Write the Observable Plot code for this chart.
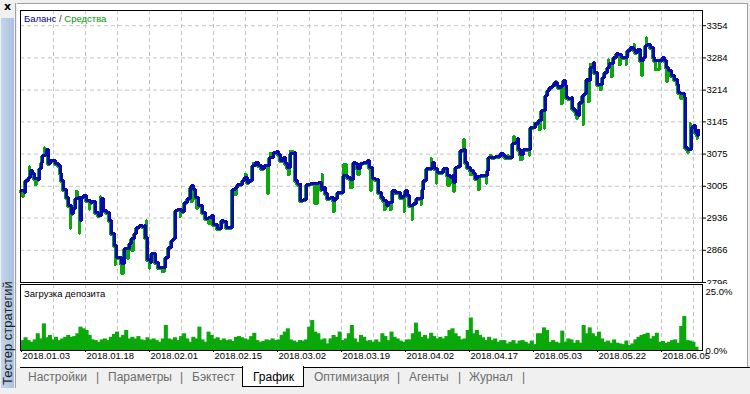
<!DOCTYPE html>
<html><head><meta charset="utf-8">
<script src="https://cdn.jsdelivr.net/npm/d3@7"></script>
<script src="https://cdn.jsdelivr.net/npm/@observablehq/plot@0.6"></script>
<style>
body{margin:0;width:750px;height:394px;background:#f0f0f0;position:relative;overflow:hidden;font-family:"Liberation Sans",Arial,sans-serif;}
.abs{position:absolute;}
#panel{left:17px;top:3px;width:730px;height:364px;background:#fff;border-top:1px solid #a0a0a0;border-right:1px solid #a0a0a0;}
#strip{left:1px;top:18px;width:13px;height:370px;background:linear-gradient(to right,#c3d5ea,#a9c1de);}
#vline{left:15px;top:3px;width:1px;height:385px;background:#a0a0a0;}
#striptext{left:1px;top:388px;width:130px;height:13px;line-height:13px;transform-origin:0 0;transform:rotate(-90deg);font-size:13px;color:#1e1e1e;padding-left:3px;white-space:nowrap;}
#close{left:4px;top:0px;font-size:11px;font-weight:bold;color:#000;font-family:"DejaVu Sans",sans-serif;}
#mainwrap{left:0;top:0;width:750px;height:284px;overflow:hidden;}
#lowerwrap{left:0;top:280px;width:750px;height:86px;}
.legend{font-size:9.5px;white-space:nowrap;}
#tabs{left:20px;top:367px;width:730px;height:20px;border-top:1px solid #000;background:#f0f0f0;}
#active{left:242px;top:366px;width:60px;height:20px;background:#fff;border-left:1px solid #000;border-right:1px solid #000;border-bottom:1px solid #000;}
.tab{top:370px;font-size:12px;color:#6d6d6d;white-space:nowrap;}
</style></head>
<body>
<div id="panel" class="abs"></div>
<div id="vline" class="abs"></div>
<div id="strip" class="abs"></div>
<div id="striptext" class="abs">Тестер стратегий</div>
<div id="close" class="abs">x</div>
<div id="mainwrap" class="abs"></div>
<div id="lowerwrap" class="abs"></div>
<div class="abs legend" style="left:24px;top:13px;"><span style="color:#0000a0">Баланс</span><span style="color:#303030"> / </span><span style="color:#009900">Средства</span></div>
<div class="abs legend" style="left:24px;top:288px;color:#000">Загрузка депозита</div>
<div id="tabs" class="abs"></div>
<div id="active" class="abs"></div>
<div class="abs tab" style="left:28px">Настройки</div>
<div class="abs tab" style="left:96px">|</div>
<div class="abs tab" style="left:108px">Параметры</div>
<div class="abs tab" style="left:180px">|</div>
<div class="abs tab" style="left:192px">Бэктест</div>
<div class="abs tab" style="left:253px;color:#000">График</div>
<div class="abs tab" style="left:314px">Оптимизация</div>
<div class="abs tab" style="left:397px">|</div>
<div class="abs tab" style="left:409px">Агенты</div>
<div class="abs tab" style="left:458px">|</div>
<div class="abs tab" style="left:469px">Журнал</div>
<div class="abs tab" style="left:522px">|</div>
<script>
// ---- data ----
// balance: [trade index, balance]
const balance = [[0,2996],[3,2992],[4,3017],[7,3025],[9,3039],[11,3033],[13,3022],[16,3019],[18,3043],[20,3057],[21,3072],[24,3075],[25,3086],[27,3054],[29,3061],[32,3062],[34,3054],[37,3050],[39,3032],[40,3017],[42,2999],[45,2981],[47,2963],[50,2945],[52,2956],[54,2978],[57,2981],[59,2931],[60,2981],[62,2985],[65,2974],[69,2970],[71,2973],[74,2949],[77,2942],[80,2978],[82,2952],[85,2949],[88,2931],[90,2902],[93,2876],[95,2851],[98,2850],[100,2837],[103,2869],[105,2869],[108,2880],[110,2891],[113,2902],[115,2916],[118,2920],[121,2918],[123,2920],[124,2894],[126,2847],[129,2840],[130,2860],[133,2858],[134,2840],[137,2829],[141,2829],[144,2851],[147,2873],[150,2887],[152,2891],[154,2952],[156,2954],[160,2951],[163,2970],[166,2978],[169,3003],[170,3007],[172,2999],[174,2981],[177,2963],[181,2949],[184,2934],[187,2938],[190,2942],[192,2923],[196,2914],[200,2931],[202,2929],[205,2916],[208,2916],[211,2999],[214,3003],[216,3010],[221,3017],[223,3025],[226,3014],[228,3017],[231,3050],[234,3057],[237,3050],[240,3043],[243,3050],[246,3050],[248,3068],[252,3079],[255,3081],[257,3075],[259,3061],[262,3068],[264,3054],[266,3046],[269,3077],[273,3079],[274,3017],[276,3010],[279,2974],[282,2976],[285,3010],[289,3012],[293,3012],[297,3014],[300,2999],[302,3003],[304,2989],[306,2978],[309,2981],[312,2974],[314,2978],[316,2992],[320,2992],[322,3028],[326,3025],[329,3019],[332,3057],[334,3054],[336,3043],[339,3054],[342,3057],[346,3061],[348,3046],[351,3021],[354,3019],[356,3019],[357,2992],[360,2981],[362,2974],[365,2963],[367,2970],[371,2996],[374,2992],[377,2992],[379,2981],[382,2985],[384,2996],[386,2985],[388,2963],[391,2963],[392,2967],[395,2978],[398,2978],[401,2999],[402,3017],[405,3043],[409,3043],[411,3057],[413,3043],[416,3035],[420,3035],[422,3043],[425,3043],[426,3028],[429,3025],[431,3028],[432,3014],[434,3046],[436,3048],[439,3083],[442,3086],[444,3057],[446,3046],[449,3039],[452,3032],[454,3023],[456,3026],[459,3028],[463,3028],[466,3039],[467,3068],[471,3067],[474,3070],[477,3070],[479,3077],[482,3072],[484,3068],[488,3068],[491,3097],[494,3101],[496,3108],[497,3086],[499,3075],[502,3086],[506,3086],[509,3133],[512,3133],[514,3142],[517,3149],[520,3169],[522,3169],[524,3202],[526,3213],[528,3220],[531,3224],[533,3231],[536,3224],[537,3219],[540,3224],[542,3235],[544,3224],[545,3198],[547,3195],[550,3198],[551,3173],[553,3169],[555,3162],[557,3159],[558,3187],[561,3202],[563,3206],[565,3238],[567,3235],[569,3263],[572,3274],[573,3253],[576,3227],[579,3227],[581,3242],[583,3253],[586,3263],[588,3271],[592,3285],[595,3293],[597,3291],[600,3285],[604,3285],[606,3300],[609,3307],[612,3303],[614,3296],[616,3303],[619,3278],[622,3285],[624,3311],[626,3314],[629,3307],[632,3285],[633,3278],[639,3278],[641,3285],[643,3278],[645,3263],[647,3256],[650,3245],[653,3238],[656,3227],[657,3209],[659,3207],[662,3206],[663,3198],[664,3090],[666,3086],[668,3086],[670,3133],[672,3137],[674,3122],[676,3115],[677,3126]];
// equity excursions away from balance: [trade index, equity]
const equitySpikes = [[1,2985],[8,3050],[14,3011],[23,3091],[49,2916],[55,2996],[58,2905],[68,2957],[79,2985],[94,2837],[100,2818],[106,2851],[110,2868],[125,2932],[128,2829],[141,2822],[159,2941],[170,2974],[175,2960],[187,2927],[214,2989],[224,3033],[232,3057],[246,2992],[249,3079],[267,3032],[269,3083],[293,2970],[301,3033],[312,2952],[322,3054],[329,3004],[336,3033],[349,2999],[363,2956],[369,2956],[383,2952],[391,2934],[400,2967],[410,3068],[415,3014],[426,3010],[432,2996],[442,3108],[449,3032],[457,3000],[465,3014],[469,3075],[487,3075],[492,3115],[499,3065],[508,3075],[513,3144],[518,3130],[523,3133],[535,3235],[540,3187],[555,3155],[562,3141],[567,3191],[569,3272],[579,3217],[587,3282],[590,3245],[598,3271],[605,3271],[613,3316],[620,3249],[625,3330],[634,3260],[645,3235],[659,3198],[666,3081],[669,3144],[676,3111]];
// deposit load, percent, in trade order
const load = [4.2,5.4,4.2,3.5,4.5,7.1,4.9,11.3,5.4,6.4,4.5,5.6,4.2,4.9,5.6,6.4,5.6,5.9,7.1,9.9,9.2,8.5,6.4,4.5,4.2,3.5,4.5,4.9,4.2,5.6,6.8,7.8,5.4,6.4,8.5,4.9,5.6,4.9,5.9,4.5,4.2,5.4,4.5,4.9,4.2,3.5,4.9,10.6,4.9,4.5,5.4,4.2,5.9,7.1,4.9,3.5,5.6,4.9,9.9,4.5,3.5,7.8,6.4,4.9,5.4,4.2,4.9,4.2,4.5,3.8,5.6,5.9,5.4,4.9,4.5,5.9,7.3,4.2,3.5,3.8,4.5,4.2,
4.9,4.2,4.5,6.4,7.8,9.2,4.5,4.0,3.5,4.2,4.0,4.5,9.9,12.7,7.8,7.1,4.5,4.9,2.8,4.9,6.4,5.6,7.8,4.2,4.9,7.1,10.6,4.9,3.5,6.4,5.6,4.0,4.2,3.5,4.5,3.5,7.1,5.9,4.2,7.8,5.6,4.9,4.0,3.5,4.5,4.5,7.1,11.6,7.8,5.6,6.4,4.9,7.3,5.9,4.9,5.6,4.9,5.9,8.5,9.2,7.1,5.9,4.5,4.9,8.5,13.8,7.1,8.5,6.4,5.4,4.2,5.6,4.2,4.9,3.5,4.2,
4.2,2.8,3.5,4.2,2.8,4.0,4.2,3.5,2.8,4.0,2.5,7.1,7.1,9.6,8.5,3.5,4.2,3.5,3.1,8.2,3.5,4.9,4.5,3.1,4.2,3.1,10.6,7.1,9.6,7.1,5.9,7.8,4.9,3.5,4.0,3.1,4.5,3.1,2.8,2.5,4.0,2.1,2.8,4.5,5.6,6.4,6.8,7.3,4.9,5.9,7.3,3.5,3.8,3.1,3.5,4.2,4.5,3.1,10.2,14.4,4.2,4.0,3.5,1.4];
const yTicks = [2796, 2866, 2936, 3005, 3075, 3145, 3214, 3284, 3354];
const loadTicks = [0, 25];
const dateLabels = ["2018.01.03","2018.01.18","2018.02.01","2018.02.15","2018.03.02","2018.03.19","2018.04.02","2018.04.17","2018.05.03","2018.05.22","2018.06.05"];
const datePos = [0, 64, 128, 192, 256, 320, 384, 448, 512, 576, 640];
const gridPos = [32,64,96,128,160,192,224,256,288,320,352,384,416,448,480,512,544,576,608,640,672];

// ---- build ----
const BLUE = "#0a0ab0", GREEN = "#0aa80a", GRID = "#c4c4c4";
const xDomain = [-1, 681];
const balanceData = balance.map(([i, v]) => ({i, v}));
const equityData = balance.map(([i, v]) => ({i, v}))
  .concat(equitySpikes.map(([i, v]) => ({i: i + 0.5, v})))
  .sort((a, b) => a.i - b.i);
const step = 677 / load.length;
const loadData = load.map((v, k) => ({x1: k * step, x2: (k + 1) * step, v}));
const dates = dateLabels.map((label, k) => ({label, pos: datePos[k]}));
const fontStyle = {background: "transparent", fontFamily: "'Liberation Sans', Arial, sans-serif", fontSize: "9.5px", color: "#000"};

const main = Plot.plot({
  width: 750, height: 284,
  marginLeft: 20, marginRight: 48, marginTop: 10, marginBottom: 2,
  style: fontStyle,
  x: {domain: xDomain, axis: null},
  y: {domain: [2796, 3387], axis: "right", ticks: yTicks, tickSize: 3, tickPadding: 1, tickFormat: d => String(d), label: null},
  marks: [
    Plot.ruleX(gridPos, {stroke: GRID, strokeOpacity: 1, strokeDasharray: "4,3"}),
    Plot.ruleY(yTicks, {stroke: GRID, strokeOpacity: 1, strokeDasharray: "4,3"}),
    Plot.line(equityData, {x: "i", y: "v", curve: "step-after", stroke: GREEN, strokeWidth: 3, dx: -1, dy: 1, strokeLinejoin: "miter", shapeRendering: "crispEdges"}),
    Plot.line(balanceData, {x: "i", y: "v", curve: "step-after", stroke: BLUE, strokeWidth: 3, strokeLinejoin: "miter", shapeRendering: "crispEdges"}),
    Plot.frame({stroke: "#000"})
  ]
});
document.getElementById("mainwrap").appendChild(main);

const lower = Plot.plot({
  width: 750, height: 86,
  marginLeft: 20, marginRight: 48, marginTop: 4, marginBottom: 16,
  style: fontStyle,
  x: {domain: xDomain, axis: "bottom", ticks: datePos, tickSize: 2, tickFormat: () => "", label: null},
  y: {domain: [0, 28], axis: "right", ticks: loadTicks, tickSize: 0, tickPadding: 3, tickFormat: d => d.toFixed(1) + "%", label: null},
  marks: [
    Plot.ruleX(gridPos, {stroke: GRID, strokeOpacity: 1, strokeDasharray: "4,3"}),
    Plot.rectY(loadData, {x1: "x1", x2: "x2", y: "v", fill: GREEN, insetLeft: -0.5, insetRight: -0.5}),
    Plot.text(dates, {x: "pos", text: "label", frameAnchor: "bottom", textAnchor: "start", dx: 1, dy: 8, fontSize: 9.5, fill: "#000"}),
    Plot.frame({stroke: "#000"})
  ]
});
document.getElementById("lowerwrap").appendChild(lower);
</script>
</body></html>
